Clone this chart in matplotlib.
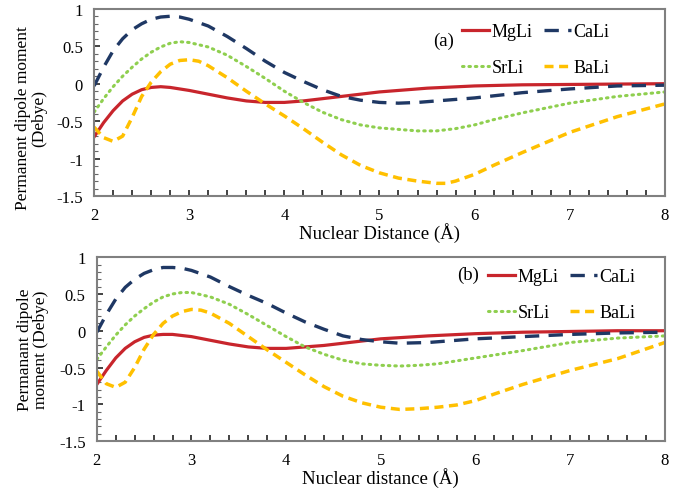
import matplotlib
matplotlib.use("Agg")
import matplotlib.pyplot as plt
from matplotlib.ticker import MultipleLocator

plt.rcParams['font.family'] = ['Liberation Serif', 'DejaVu Serif']

# panel (a)
xa_mg = [2.0, 2.1, 2.2, 2.3, 2.4, 2.5, 2.6, 2.7, 2.8, 2.9, 3.0, 3.2, 3.4, 3.6, 3.8, 4.0, 4.2, 4.4, 4.6, 4.8, 5.0, 5.5, 6.0, 6.5, 7.0, 7.5, 8.0]
ya_mg = [-0.71, -0.52, -0.36, -0.23, -0.14, -0.08, -0.05, -0.04, -0.05, -0.07, -0.09, -0.14, -0.19, -0.23, -0.25, -0.25, -0.23, -0.2, -0.17, -0.14, -0.11, -0.06, -0.03, -0.015, -0.01, -0.005, 0.0]
xa_ca = [2.0, 2.1, 2.2, 2.3, 2.4, 2.5, 2.6, 2.7, 2.8, 2.9, 3.0, 3.2, 3.4, 3.6, 3.8, 4.0, 4.2, 4.4, 4.6, 4.8, 5.0, 5.2, 5.4, 5.6, 6.0, 6.5, 7.0, 7.5, 8.0]
ya_ca = [-0.03, 0.22, 0.44, 0.6, 0.72, 0.8, 0.86, 0.89, 0.9, 0.89, 0.86, 0.77, 0.63, 0.47, 0.3, 0.15, 0.03, -0.08, -0.17, -0.22, -0.25, -0.26, -0.25, -0.23, -0.19, -0.12, -0.07, -0.03, -0.02]
xa_sr = [2.0, 2.1, 2.2, 2.3, 2.4, 2.5, 2.6, 2.7, 2.8, 2.9, 3.0, 3.2, 3.4, 3.6, 3.8, 4.0, 4.2, 4.4, 4.6, 4.8, 5.0, 5.2, 5.4, 5.6, 5.8, 6.0, 6.2, 6.5, 7.0, 7.5, 8.0]
ya_sr = [-0.38, -0.2, -0.04, 0.1, 0.22, 0.33, 0.42, 0.49, 0.54, 0.56, 0.55, 0.49, 0.38, 0.23, 0.07, -0.1, -0.25, -0.38, -0.48, -0.55, -0.59, -0.61, -0.63, -0.63, -0.6, -0.55, -0.48, -0.39, -0.26, -0.17, -0.11]
xa_ba = [2.0, 2.1, 2.2, 2.3, 2.4, 2.5, 2.6, 2.7, 2.8, 2.9, 3.0, 3.1, 3.2, 3.4, 3.6, 3.8, 4.0, 4.2, 4.4, 4.6, 4.8, 5.0, 5.2, 5.4, 5.6, 5.7, 5.8, 6.0, 6.2, 6.5, 7.0, 7.5, 8.0]
ya_ba = [-0.58, -0.72, -0.77, -0.7, -0.45, -0.17, 0.02, 0.16, 0.26, 0.31, 0.32, 0.3, 0.24, 0.08, -0.1, -0.27, -0.43, -0.6, -0.78, -0.95, -1.09, -1.19, -1.26, -1.3, -1.33, -1.33, -1.3, -1.21, -1.09, -0.92, -0.65, -0.44, -0.27]

# panel (b)
xb_mg = [2.0, 2.1, 2.2, 2.3, 2.4, 2.5, 2.6, 2.7, 2.8, 3.0, 3.2, 3.4, 3.6, 3.8, 4.0, 4.2, 4.4, 4.6, 4.8, 5.0, 5.5, 6.0, 6.5, 7.0, 7.5, 8.0]
yb_mg = [-0.73, -0.54, -0.37, -0.24, -0.15, -0.09, -0.06, -0.05, -0.05, -0.08, -0.13, -0.18, -0.22, -0.24, -0.24, -0.22, -0.2, -0.17, -0.14, -0.11, -0.07, -0.04, -0.02, -0.01, 0.0, 0.0]
xb_ca = [2.0, 2.1, 2.2, 2.3, 2.4, 2.5, 2.6, 2.7, 2.8, 2.9, 3.0, 3.2, 3.4, 3.6, 3.8, 4.0, 4.2, 4.4, 4.6, 4.8, 5.0, 5.2, 5.5, 6.0, 6.5, 7.0, 7.5, 8.0]
yb_ca = [-0.02, 0.22, 0.43, 0.59, 0.7, 0.78, 0.83, 0.86, 0.86, 0.85, 0.82, 0.73, 0.6, 0.48, 0.37, 0.24, 0.12, 0.02, -0.07, -0.12, -0.15, -0.17, -0.16, -0.11, -0.08, -0.05, -0.03, -0.02]
xb_sr = [2.0, 2.1, 2.2, 2.3, 2.4, 2.5, 2.6, 2.7, 2.8, 2.9, 3.0, 3.2, 3.4, 3.6, 3.8, 4.0, 4.2, 4.4, 4.6, 4.8, 5.0, 5.2, 5.4, 5.6, 6.0, 6.5, 7.0, 7.5, 8.0]
yb_sr = [-0.39, -0.22, -0.06, 0.08, 0.2, 0.3, 0.39, 0.46, 0.5, 0.52, 0.52, 0.46, 0.36, 0.22, 0.07, -0.08, -0.22, -0.32, -0.4, -0.45, -0.47, -0.48, -0.47, -0.45, -0.37, -0.27, -0.16, -0.1, -0.07]
xb_ba = [2.0, 2.1, 2.2, 2.3, 2.4, 2.5, 2.6, 2.7, 2.8, 2.9, 3.0, 3.1, 3.2, 3.4, 3.6, 3.8, 4.0, 4.2, 4.4, 4.6, 4.8, 5.0, 5.2, 5.4, 5.6, 5.8, 6.0, 6.2, 6.5, 7.0, 7.5, 8.0]
yb_ba = [-0.55, -0.72, -0.77, -0.7, -0.5, -0.25, -0.05, 0.1, 0.2, 0.26, 0.29, 0.28, 0.24, 0.1, -0.08, -0.26, -0.43, -0.6, -0.76, -0.89, -0.98, -1.04, -1.07, -1.06, -1.04, -1.01, -0.95, -0.86, -0.73, -0.54, -0.38, -0.16]

red = '#C8252C'
navy = '#1F3864'
green = '#8FCF4F'
gold = '#FFC000'

fig = plt.figure(figsize=(6.77, 4.89), dpi=100)
ax1 = fig.add_axes([0.139, 0.597, 0.843, 0.383])
ax2 = fig.add_axes([0.143, 0.096, 0.839, 0.376])

# ax, data..., tag, tag pos, legend anchor, ylabel pos, ylabel, xlabel
panels = [
    (ax1, xa_mg, ya_mg, xa_ca, ya_ca, xa_sr, ya_sr, xa_ba, ya_ba, '(a)',
     (0.612, 0.83), (0.645, 0.922), (-0.082, 0.42),
     'Permanent dipole moment\n(Debye)', 'Nuclear Distance (Å)'),
    (ax2, xb_mg, yb_mg, xb_ca, yb_ca, xb_sr, yb_sr, xb_ba, yb_ba, '(b)',
     (0.653, 0.905), (0.689, 0.94), (-0.084, 0.5),
     'Permanant dipole\nmoment (Debye)', 'Nuclear distance (Å)'),
]

for ax, x1, y1, x2, y2, x3, y3, x4, y4, tag, tpos, lpos, ypos, ylab, xlab in panels:
    l1, = ax.plot(x1, y1, color=red, lw=2.3, label='MgLi')
    l2, = ax.plot(x2, y2, color=navy, lw=2.4, ls=(0, (4.3, 2.8)), label='CaLi')
    l3, = ax.plot(x3, y3, color=green, lw=2.2, ls=(0, (0.5, 1.6)),
                  dash_capstyle='round', label='SrLi')
    l4, = ax.plot(x4, y4, color=gold, lw=2.5, ls=(0, (2.6, 1.6)), label='BaLi')
    ax.set_xlim(2, 8)
    ax.set_ylim(-1.5, 1)
    ax.xaxis.set_major_locator(MultipleLocator(1))
    ax.xaxis.set_minor_locator(MultipleLocator(0.2))
    ax.yaxis.set_major_locator(MultipleLocator(0.5))
    ax.yaxis.set_minor_locator(MultipleLocator(0.1))
    ax.tick_params(which='both', direction='in', length=4, width=1.2,
                   color='#222222', labelsize=12, pad=8)
    ax.tick_params(axis='y', which='minor', length=3, width=0.8, color='#666666')
    ax.set_yticks([1, 0.5, 0, -0.5, -1, -1.5])
    ax.set_yticklabels(['1', '0.5', '0', '-0.5', '-1', '-1.5'])
    for s in ax.spines.values():
        s.set_color('#808080')
        s.set_linewidth(1.5)
    ax.set_xlabel(xlab, fontsize=13.5, labelpad=-1)
    ax.set_ylabel(ylab, fontsize=12.5, linespacing=1.0)
    ax.yaxis.set_label_coords(ypos[0], ypos[1])
    ax.legend(handles=[l1, l3, l2, l4], ncol=2, frameon=False,
              loc='upper left', bbox_to_anchor=lpos, borderaxespad=0,
              fontsize=13, borderpad=0, handlelength=1.5,
              handletextpad=0.15, columnspacing=0.6, labelspacing=1.05)
    ax.text(tpos[0], tpos[1], tag, transform=ax.transAxes, fontsize=13.5,
            ha='center', va='center')

fig.savefig('out.png', dpi=100)
